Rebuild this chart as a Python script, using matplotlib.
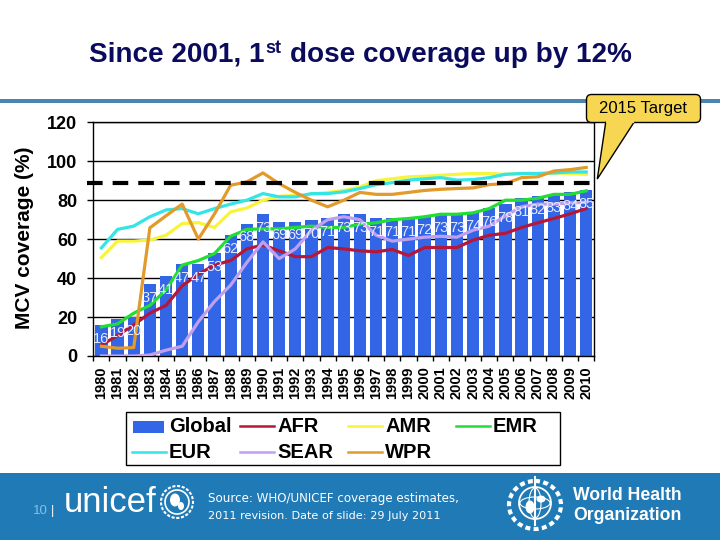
import matplotlib
matplotlib.use("Agg")
import matplotlib.pyplot as plt
from matplotlib.patches import Circle, Ellipse, FancyBboxPatch, Polygon, Rectangle

plt.rcParams['font.family'] = ['Liberation Sans', 'DejaVu Sans']

# Data
years = [str(y) for y in range(1980, 2011)]
global_cov = [16, 19, 20, 37, 41, 47, 47, 53, 62, 68, 73, 69, 69, 70, 71, 73,
              73, 71, 71, 71, 72, 73, 73, 74, 76, 78, 81, 82, 83, 84, 85]
afr = [5.6, 10.5, 16, 22, 26, 36, 42, 46.7, 49, 55, 57, 54, 51, 51, 55.7, 55,
       54, 53.5, 54.7, 51.6, 55.7, 55.7, 55.7, 59.5, 62, 63, 66, 68.4, 70.6, 73, 75.7]
amr = [50.5, 59, 59, 59.5, 62, 68, 68.5, 66, 74, 76, 80, 82, 82.5, 83, 84, 85,
       86.8, 90, 91, 92, 92.3, 92.8, 93.3, 93.7, 93.7, 93.3, 93.7, 93.7, 94, 93.7, 93.3]
emr = [15, 16.5, 22, 26, 34, 46.7, 49, 52.6, 61.5, 65, 65.3, 65.3, 66, 66.7, 66, 66,
       67.7, 68.4, 70, 70.6, 71.5, 72.8, 72.8, 73.5, 75.7, 80, 80, 81, 83, 83, 84.8]
eur = [55.5, 65, 66.7, 71.5, 75, 75.7, 73, 75.7, 78, 80, 83.4, 81.7, 81.7, 83.4, 83.4, 84.3,
       86, 88, 89, 90.3, 91, 91.6, 90.3, 90.6, 91.6, 93.3, 93.7, 93.7, 94, 94.5, 94.5]
sear = [0, 0, 0, 0.5, 3, 5, 17.6, 28, 36.4, 48, 58.6, 50, 55, 64.6, 70, 71.5,
        70, 62, 59, 60, 61, 61.5, 61, 64.6, 66.7, 72, 76.6, 78, 78, 78.6, 79]
wpr = [5, 4, 4.3, 65.8, 72, 78, 60, 73, 87.7, 89.4, 94, 88.5, 84, 80, 76.6, 80,
       84, 83, 83, 84, 85, 85.6, 86, 86.3, 88, 88.5, 91.6, 92, 95, 95.7, 96.8]
target = 89
y_ticks = [0, 20, 40, 60, 80, 100, 120]

line_series = [('AFR', afr, '#B5173A'), ('AMR', amr, '#F8F43A'), ('EMR', emr, '#22DD33'),
               ('EUR', eur, '#33E5E5'), ('SEAR', sear, '#C0A0EE'), ('WPR', wpr, '#E29A2A')]
BAR_COLOR = '#3366E6'
W, H = 720, 540

fig = plt.figure(figsize=(7.2, 5.4), dpi=100, facecolor='white')

# main chart, placed in pixels
left, right, top, bottom = 93.3, 594.3, 122.3, 356
ax = fig.add_axes([left / W, 1 - bottom / H, (right - left) / W, (bottom - top) / H])
x = list(range(len(years)))
bars = ax.bar(x, global_cov, width=0.76, color=BAR_COLOR, zorder=2)
for name, vals, col in line_series:
    ax.plot(x, vals, color=col, lw=2.3, solid_joinstyle='round', zorder=3)
ax.bar_label(bars, padding=-15, color='#E4EAFF', fontsize=10.5, zorder=5)
for lab in ax.texts:
    lab.set_zorder(5)

ax.set_xlim(-0.5, len(years) - 0.5)
ax.set_ylim(0, 120)
ax.set_yticks(y_ticks)
ax.set_yticklabels(y_ticks, fontsize=13, fontweight='bold')
ax.set_xticks([i - 0.5 for i in range(len(years) + 1)], minor=False)
ax.set_xticklabels([])
ax.set_xticks(x, minor=True)
ax.set_xticklabels(years, minor=True, rotation=90, fontsize=10.5, fontweight='bold')
ax.tick_params(axis='x', which='minor', length=0, pad=7.5)
ax.tick_params(axis='x', which='major', length=3.5, width=1)
ax.tick_params(axis='y', length=4.5, width=1, pad=7)
ax.grid(axis='y', color='black', lw=1, zorder=1)
ax.set_axisbelow(True)
ax.set_ylabel('MCV coverage (%)', fontsize=15, fontweight='bold')
ax.yaxis.set_label_coords(-0.118, 0.505)
for s in ax.spines.values():
    s.set_linewidth(1)

# target line, runs a little past the axes
ax.axhline(target, xmin=-0.012, xmax=1.008, color='black', lw=3, clip_on=False,
           dashes=(3.75, 2.4), dash_capstyle='butt', zorder=6)

# overlay in pixel coordinates for everything around the chart
ov = fig.add_axes([0, 0, 1, 1], facecolor='none')
ov.set_xlim(0, W)
ov.set_ylim(H, 0)
ov.axis('off')

# title, with the superscript done by hand
NAVY = '#0B0B5E'
renderer = fig.canvas.get_renderer()
t1 = ov.text(89, 62, 'Since 2001, 1', fontsize=20.1, fontweight='bold', color=NAVY, va='baseline')
end1 = t1.get_window_extent(renderer).x1
t2 = ov.text(end1 + 1, 53, 'st', fontsize=13, fontweight='bold', color=NAVY, va='baseline')
end2 = t2.get_window_extent(renderer).x1
ov.text(end2 + 8, 62, 'dose coverage up by 12%', fontsize=20.1, fontweight='bold',
        color=NAVY, va='baseline')

# rule under the title
ov.add_patch(Rectangle((0, 99), W, 4, color='#4A86B0', lw=0))

# callout
YEL = '#F7D651'
ov.add_patch(FancyBboxPatch((590, 98), 107, 21, boxstyle='round,pad=3.5,rounding_size=5',
                            fc=YEL, ec='black', lw=1))
ov.add_patch(Polygon([(605.7, 122.3), (634, 122.3), (597.3, 179)], closed=True,
                     fc=YEL, ec='black', lw=1, joinstyle='miter'))
ov.plot([606.7, 633], [122.3, 122.3], color=YEL, lw=1.6)
ov.text(643, 108.5, '2015 Target', fontsize=12, ha='center', va='center')

# legend box
ov.add_patch(Rectangle((126, 412), 434, 53, fc='white', ec='black', lw=1))
ov.add_patch(Rectangle((133, 421), 31, 12, fc=BAR_COLOR, lw=0))
legend_font = dict(fontsize=14.5, fontweight='bold', va='center')
ov.text(169, 427, 'Global', **legend_font)
legend_slots = [('AFR', 240, 427), ('AMR', 348, 427), ('EMR', 456, 427),
                ('EUR', 132, 453), ('SEAR', 240, 453), ('WPR', 348, 453)]
colors = {name: col for name, vals, col in line_series}
for name, lx, ly in legend_slots:
    ov.plot([lx, lx + 34], [ly - 1, ly - 1], color=colors[name], lw=1.8)
    ov.text(lx + 37, ly, name, **legend_font)

# footer band
BAND = '#1F7AB5'
ov.add_patch(Rectangle((0, 473), W, 67, fc=BAND, lw=0))
ov.text(33, 511, '10', color='#7FC4EE', fontsize=9.5, va='center')
ov.text(51, 511, '|', color='white', fontsize=9, va='center')
ov.text(64, 503, 'unicef', color='white', fontsize=25, va='center')

# unicef emblem, rough
ov.add_patch(Circle((177, 502), 16, fc='none', ec='white', lw=1.5, ls=(0, (1.5, 0.8))))
ov.add_patch(Circle((177, 502), 12, fc='none', ec='white', lw=1.2))
ov.add_patch(Ellipse((175, 500), 10, 13, fc='white', lw=0))
ov.add_patch(Ellipse((181, 506), 6, 8, fc='white', lw=0))

ov.text(208, 498.5, 'Source: WHO/UNICEF coverage estimates,', color='white',
        fontsize=8.6, family='DejaVu Sans', va='center')
ov.text(208, 516, '2011 revision. Date of slide: 29 July 2011', color='white',
        fontsize=8.1, family='DejaVu Sans', va='center')

# WHO emblem, rough
ov.add_patch(Circle((535, 503), 16, fc='none', ec='white', lw=1.3))
ov.add_patch(Ellipse((535, 503), 30, 12, fc='none', ec='white', lw=0.8))
ov.add_patch(Ellipse((535, 503), 12, 30, fc='none', ec='white', lw=0.8))
ov.add_patch(Ellipse((535, 505), 52, 48, fc='none', ec='white', lw=3, ls=(0, (1.2, 0.8))))
ov.plot([535, 535], [477, 525], color='white', lw=1.5)
ov.add_patch(Ellipse((530, 507), 9, 13, fc='white', lw=0))
ov.add_patch(Ellipse((541, 499), 9, 7, fc='white', lw=0))
ov.text(573, 496, 'World Health', color='white', fontsize=12.7, fontweight='bold', va='center')
ov.text(573, 516, 'Organization', color='white', fontsize=12.7, fontweight='bold', va='center')

fig.savefig('out.png', dpi=100)
